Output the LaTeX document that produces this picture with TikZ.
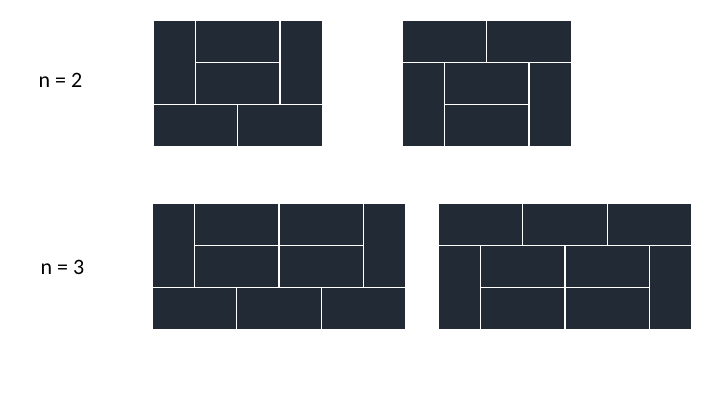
\documentclass[tikz,border=0pt]{standalone}
\usepackage{fontspec}
\setmainfont{Carlito}
\usetikzlibrary{positioning}
\definecolor{tile}{HTML}{222A35}
\tikzstyle{domino} = [fill=tile, draw=white, line width=1.3pt]
\tikzstyle{label} = [font=\fontsize{22}{26}\selectfont]

\begin{document}
\begin{tikzpicture}[x=1pt, y=-1pt]

\useasboundingbox (0,0) rectangle (720,405);

% Labels
\node [label] (ntwo) at (60.5,80) {n = 2};
\node [label] (nthree) at (62.5,267) {n = 3};

% n = 2, first tiling
\begin{scope}[shift={(153,20)}, x=42.3pt, y=-42.3pt]
\foreach \a/\b in {1/0, 1/1, 0/2, 2/2}
  \draw [domino] (\a,\b) rectangle ++(2,1);
\foreach \a/\b in {0/0, 3/0}
  \draw [domino] (\a,\b) rectangle ++(1,2);
\end{scope}

% n = 2, second tiling
\begin{scope}[shift={(402,20)}, x=42.3pt, y=-42.3pt]
\foreach \a/\b in {0/0, 2/0, 1/1, 1/2}
  \draw [domino] (\a,\b) rectangle ++(2,1);
\foreach \a/\b in {0/1, 3/1}
  \draw [domino] (\a,\b) rectangle ++(1,2);
\end{scope}

% n = 3, first tiling
\begin{scope}[shift={(152,203)}, x=42.3pt, y=-42.3pt]
\foreach \a/\b in {1/0, 3/0, 1/1, 3/1, 0/2, 2/2, 4/2}
  \draw [domino] (\a,\b) rectangle ++(2,1);
\foreach \a/\b in {0/0, 5/0}
  \draw [domino] (\a,\b) rectangle ++(1,2);
\end{scope}

% n = 3, second tiling
\begin{scope}[shift={(438,203)}, x=42.3pt, y=-42.3pt]
\foreach \a/\b in {0/0, 2/0, 4/0, 1/1, 3/1, 1/2, 3/2}
  \draw [domino] (\a,\b) rectangle ++(2,1);
\foreach \a/\b in {0/1, 5/1}
  \draw [domino] (\a,\b) rectangle ++(1,2);
\end{scope}

\end{tikzpicture}
\end{document}
